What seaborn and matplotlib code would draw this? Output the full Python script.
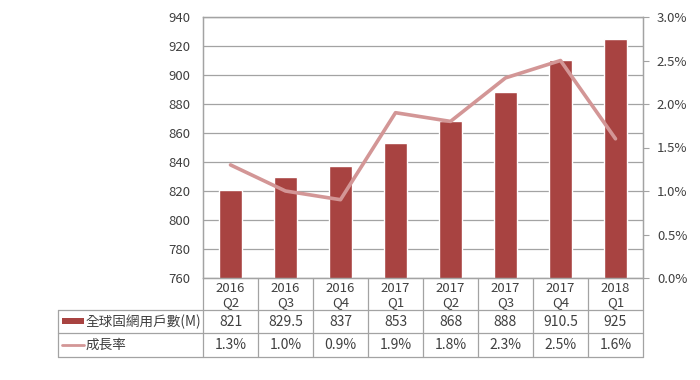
import seaborn as sns
import matplotlib.pyplot as plt
import pandas as pd
from matplotlib.transforms import blended_transform_factory
from matplotlib.lines import Line2D
from matplotlib.patches import Rectangle

quarters = ['2016\nQ2', '2016\nQ3', '2016\nQ4', '2017\nQ1', '2017\nQ2', '2017\nQ3', '2017\nQ4', '2018\nQ1']
users = [821, 829.5, 837, 853, 868, 888, 910.5, 925]
growth = [1.3, 1.0, 0.9, 1.9, 1.8, 2.3, 2.5, 1.6]
users_text = ['821', '829.5', '837', '853', '868', '888', '910.5', '925']
growth_text = ['1.3%', '1.0%', '0.9%', '1.9%', '1.8%', '2.3%', '2.5%', '1.6%']
bar_label = '全球固網用戶數(M)'
line_label = '成長率'

sns.set_style('white')
plt.rcParams['font.family'] = ['Noto Sans CJK TC', 'DejaVu Sans']

bar_color = '#A84341'
line_color = '#D39696'
grid_color = '#A3A3A3'
text_color = '#404040'

df = pd.DataFrame({'q': quarters, 'users': users, 'growth': growth})

W, H = 700, 380
fig = plt.figure(figsize=(7, 3.8), dpi=100)
L, R, T, B = 203, 643, 17, 278
ax = fig.add_axes([L / W, 1 - B / H, (R - L) / W, (B - T) / H])

sns.barplot(data=df, x='q', y='users', color=bar_color, width=0.42, ax=ax, saturation=1)
ax.set_ylim(760, 940)
ax.set_yticks(range(760, 941, 20))
ax.yaxis.grid(True, color=grid_color, linewidth=0.9)
ax.set_axisbelow(True)
ax.set_xlabel('')
ax.set_ylabel('')
ax.set_xticks(range(len(quarters)))
ax.set_xticklabels([])
ax.tick_params(axis='x', length=0)
ax.tick_params(axis='y', length=0, labelsize=9.5, labelcolor=text_color, pad=9)
for s in ax.spines.values():
    s.set_color(grid_color)
    s.set_linewidth(0.9)

ax2 = ax.twinx()
sns.lineplot(data=df, x='q', y='growth', color=line_color, linewidth=2.6, ax=ax2, sort=False)
ax2.set_ylim(0, 3.0)
ax2.set_yticks([i * 0.5 for i in range(7)])
ax2.set_yticklabels([f'{i * 0.5:.1f}%' for i in range(7)])
ax2.set_ylabel('')
ax2.set_xlabel('')
ax2.tick_params(axis='y', length=4, color=grid_color, labelsize=9.5, labelcolor=text_color, pad=6)
for s in ax2.spines.values():
    s.set_color(grid_color)
    s.set_linewidth(0.9)
ax.set_xlim(-0.5, len(quarters) - 0.5)

# data table below the plot
tr = blended_transform_factory(ax.transData, fig.transFigure)
ftr = fig.transFigure
def fy(px):
    return 1 - px / H
def fx(px):
    return px / W

lkw = dict(color=grid_color, linewidth=0.9, clip_on=False)
y_hdr, y_r1, y_r2, y_end = 278, 310, 333, 357
n = len(quarters)
for i in range(n + 1):
    fig.add_artist(Line2D([i - 0.5, i - 0.5], [fy(y_hdr), fy(y_end)], transform=tr, **lkw))
for y in (y_r1, y_r2, y_end):
    fig.add_artist(Line2D([fx(58), fx(R)], [fy(y), fy(y)], transform=ftr, **lkw))
fig.add_artist(Line2D([fx(58), fx(58)], [fy(y_r1), fy(y_end)], transform=ftr, **lkw))

for i in range(n):
    ax.text(i, fy(295.5), quarters[i], transform=tr, ha='center', va='center',
            fontsize=9.5, color=text_color, linespacing=1.15)
    ax.text(i, fy((y_r1 + y_r2) / 2), users_text[i], transform=tr, ha='center', va='center',
            fontsize=10, color=text_color)
    ax.text(i, fy((y_r2 + y_end) / 2), growth_text[i], transform=tr, ha='center', va='center',
            fontsize=10, color=text_color)

fig.add_artist(Rectangle((fx(62), fy(324)), fx(84) - fx(62), fy(318) - fy(324), transform=ftr,
                         facecolor=bar_color, edgecolor='none'))
fig.text(fx(86), fy((y_r1 + y_r2) / 2), bar_label, ha='left', va='center', fontsize=9.8, color=text_color)
fig.add_artist(Line2D([fx(62), fx(84)], [fy(345), fy(345)], transform=ftr, color=line_color, linewidth=2))
fig.text(fx(86), fy((y_r2 + y_end) / 2), line_label, ha='left', va='center', fontsize=9.8, color=text_color)

fig.savefig('out.png', dpi=100)
